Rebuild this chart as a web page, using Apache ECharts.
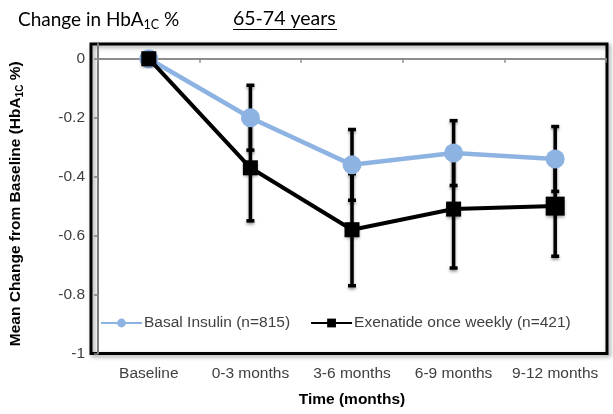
<!DOCTYPE html>
<html>
<head>
<meta charset="utf-8">
<script src="https://cdn.jsdelivr.net/npm/echarts@6/dist/echarts.min.js"></script>
<style>
  html, body { margin: 0; padding: 0; background: #fff; }
  #chart { width: 613px; height: 414px; }
</style>
</head>
<body>
<div id="chart"></div>
<script>
// Time points on the x axis
const categories = ['Baseline', '0-3 months', '3-6 months', '6-9 months', '9-12 months'];

// Mean change in HbA1c (%) and the half-width of each error bar
const basalMean = [0, -0.20, -0.36, -0.32, -0.34];
const basalErr  = [0, 0.11, 0.12, 0.11, 0.11];
const exenMean  = [0, -0.37, -0.58, -0.51, -0.50];
const exenErr   = [0, 0.18, 0.19, 0.20, 0.17];

// Labelled y ticks
const yTicks = [-1, -0.8, -0.6, -0.4, -0.2, 0];

const basalName = 'Basal Insulin (n=815)';
const exenName = 'Exenatide once weekly (n=421)';

const labelFont = '"Liberation Sans", Arial, sans-serif';
const titleFont = 'Lato, "Open Sans", sans-serif';
const labelColor = '#404040';

function errorRows(mean, err) {
  const rows = [];
  mean.forEach(function (m, i) {
    if (err[i] > 0) rows.push([i, m - err[i], m + err[i]]);
  });
  return rows;
}

function renderErrorBar(params, api) {
  const i = api.value(0);
  const lo = api.coord([i, api.value(1)]);
  const hi = api.coord([i, api.value(2)]);
  const half = 4;
  const style = {
    stroke: '#000', lineWidth: 3.5,
    shadowBlur: 3, shadowColor: 'rgba(0,0,0,0.35)', shadowOffsetY: 2
  };
  return {
    type: 'group',
    children: [
      { type: 'line', shape: { x1: hi[0], y1: hi[1], x2: lo[0], y2: lo[1] }, style: style },
      { type: 'line', shape: { x1: hi[0] - half, y1: hi[1], x2: hi[0] + half, y2: hi[1] }, style: style },
      { type: 'line', shape: { x1: lo[0] - half, y1: lo[1], x2: lo[0] + half, y2: lo[1] }, style: style }
    ]
  };
}

const chart = echarts.init(document.getElementById('chart'), null, { renderer: 'canvas' });

chart.setOption({
  animation: false,
  backgroundColor: '#fff',
  grid: { left: 93, right: 7, top: 44, bottom: 60.5, containLabel: false },
  legend: {
    left: 100, top: 315, padding: 0,
    itemWidth: 41, itemHeight: 11, itemGap: 20,
    textStyle: { fontFamily: labelFont, fontSize: 15.5, color: labelColor, padding: [0, 0, 0, -3] },
    data: [basalName, exenName]
  },
  xAxis: [
    {
      type: 'category', data: categories, position: 'bottom',
      axisLine: { show: false, onZero: false },
      axisTick: { show: false },
      axisLabel: { interval: 0, margin: 12, fontFamily: labelFont, fontSize: 15.5, color: labelColor },
      name: 'Time (months)', nameLocation: 'middle', nameGap: 38,
      nameTextStyle: { fontFamily: labelFont, fontSize: 15.5, fontWeight: 'bold', color: '#000' }
    },
    {
      type: 'category', data: categories, position: 'top',
      axisLine: { show: true, onZero: true, lineStyle: { color: '#8c8c8c', width: 2 } },
      axisTick: { show: true, inside: true, length: 4, lineStyle: { color: '#8c8c8c', width: 1.5 } },
      axisLabel: { show: false }
    }
  ],
  yAxis: {
    type: 'value', min: -1, max: 0.05,
    splitLine: { show: false },
    axisLine: { show: true, lineStyle: { color: '#7f7f7f', width: 2 } },
    axisTick: { show: true, length: 4, customValues: yTicks, lineStyle: { color: '#7f7f7f', width: 1.5 } },
    axisLabel: {
      customValues: yTicks, margin: 13,
      fontFamily: labelFont, fontSize: 15.5, color: labelColor,
      formatter: function (v) { return String(Math.round(v * 10) / 10); }
    },
    name: '{t|Mean Change from Baseline (HbA}{s|1C}{t| %)}',
    nameLocation: 'middle', nameGap: 73, nameRotate: 90,
    nameTextStyle: {
      padding: [0, 10, 0, 0],
      rich: {
        t: { fontFamily: labelFont, fontSize: 15.5, fontWeight: 'bold', color: '#000', lineHeight: 18 },
        s: { fontFamily: labelFont, fontSize: 10, fontWeight: 'bold', color: '#000', lineHeight: 12, verticalAlign: 'bottom' }
      }
    }
  },
  series: [
    {
      name: 'basal-error', type: 'custom', xAxisIndex: 0, z: 1,
      renderItem: renderErrorBar,
      encode: { x: 0, y: [1, 2] },
      data: errorRows(basalMean, basalErr),
      silent: true
    },
    {
      name: 'exen-error', type: 'custom', xAxisIndex: 0, z: 1,
      renderItem: renderErrorBar,
      encode: { x: 0, y: [1, 2] },
      data: errorRows(exenMean, exenErr),
      silent: true
    },
    {
      name: basalName, type: 'line', xAxisIndex: 0, z: 3,
      data: basalMean,
      symbol: 'circle', symbolSize: 19,
      lineStyle: { color: '#8db3e2', width: 4.5 },
      itemStyle: { color: '#8db3e2' }
    },
    {
      name: exenName, type: 'line', xAxisIndex: 0, z: 4,
      data: exenMean,
      symbol: 'rect',
      symbolSize: function (v, p) { return p.dataIndex === 4 ? 19 : 15; },
      lineStyle: { color: '#000', width: 4 },
      itemStyle: { color: '#000', shadowBlur: 3, shadowColor: 'rgba(0,0,0,0.35)', shadowOffsetY: 2 }
    }
  ],
  graphic: [
    {
      type: 'rect', z: 0, silent: true,
      shape: { x: 91, y: 44, width: 516, height: 309.5 },
      style: {
        fill: 'none', stroke: '#000', lineWidth: 3,
        shadowBlur: 4, shadowColor: 'rgba(0,0,0,0.4)', shadowOffsetX: 2, shadowOffsetY: 2
      }
    },
    {
      type: 'text', z: 10, silent: true,
      style: {
        x: 18, y: 9,
        text: '{m|Change in HbA}{s|1C}{m| %}',
        rich: {
          m: { fontFamily: titleFont, fontSize: 19, color: '#000', lineHeight: 22 },
          s: { fontFamily: titleFont, fontSize: 12.5, color: '#000', lineHeight: 12, verticalAlign: 'bottom' }
        }
      }
    },
    {
      type: 'text', z: 10, silent: true,
      style: {
        x: 233, y: 9,
        text: '65-74 years',
        font: '19.5px ' + titleFont,
        fill: '#000'
      }
    },
    {
      type: 'line', z: 10, silent: true,
      shape: { x1: 233, y1: 29.5, x2: 337, y2: 29.5 },
      style: { stroke: '#000', lineWidth: 1.2 }
    }
  ]
});
</script>
</body>
</html>
